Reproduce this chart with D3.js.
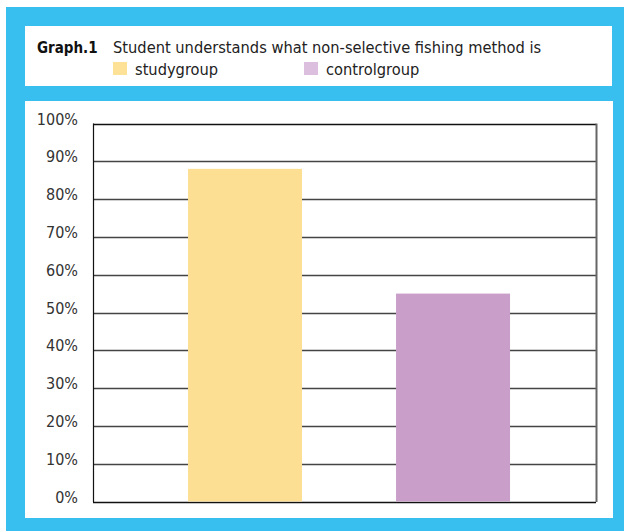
<!DOCTYPE html>
<html>
<head>
<meta charset="utf-8">
<script src="https://cdn.jsdelivr.net/npm/d3@7"></script>
<style>
  body { margin: 0; background: #fff; }
  text { font-family: "Liberation Sans Narrow", "DejaVu Sans Condensed", "Noto Sans", sans-serif; }
</style>
</head>
<body>
<svg id="chart" width="624" height="531"></svg>
<script>
// chart data
var groups = ["studygroup", "controlgroup"];
var percents = [88, 55];
var barColors = ["#fddf94", "#c99fca"];
var legendColors = ["#fde196", "#dcbfdf"];
var yTicks = [0, 10, 20, 30, 40, 50, 60, 70, 80, 90, 100];
var titleLabel = "Graph.1";
var titleText = "Student understands what non-selective fishing method is";

var svg = d3.select("#chart");

// blue frame and the two white panels
svg.append("rect").attr("x", 6).attr("y", 7).attr("width", 618).attr("height", 524).attr("fill", "#38bfef");
svg.append("rect").attr("x", 25).attr("y", 26).attr("width", 587).attr("height", 60).attr("fill", "#fff");
svg.append("rect").attr("x", 25).attr("y", 101).attr("width", 588).attr("height", 417).attr("fill", "#fff");

// title
svg.append("text").attr("x", 37).attr("y", 53)
    .style("font-family", "'DejaVu Sans Condensed', sans-serif")
    .style("font-weight", "bold").style("font-size", "15px").attr("fill", "#111")
    .text(titleLabel);
svg.append("text").attr("x", 113).attr("y", 53)
    .style("font-size", "16.3px").attr("fill", "#222")
    .text(titleText);

// legend
var legend = svg.selectAll("g.legend")
    .data(groups)
    .enter().append("g")
    .attr("class", "legend")
    .attr("transform", function (d, i) { return "translate(" + [113, 304][i] + ",62)"; });
legend.append("rect").attr("width", 14).attr("height", 13)
    .attr("fill", function (d, i) { return legendColors[i]; });
legend.append("text").attr("x", 22).attr("y", 13)
    .style("font-size", "16.3px").attr("fill", "#222")
    .text(function (d) { return d; });

// plot
var plotLeft = 93, plotRight = 596, plotTop = 123.5, plotBottom = 501.5;

var x = d3.scaleBand().domain(groups).range([plotLeft, plotRight])
    .paddingInner(0.452).paddingOuter(0.435).align(0.525);
var y = d3.scaleLinear().domain([0, 100]).range([plotBottom, plotTop]);

// gridlines
svg.append("g").selectAll("line")
    .data(yTicks)
    .enter().append("line")
    .attr("x1", plotLeft).attr("x2", plotRight)
    .attr("y1", function (d) { return Math.round(y(d)) + 0.5; })
    .attr("y2", function (d) { return Math.round(y(d)) + 0.5; })
    .attr("stroke", function (d) { return (d === 100 || d === 0) ? "#111" : "#444"; })
    .attr("stroke-width", 1.3);

// bars
svg.append("g").selectAll("rect")
    .data(percents)
    .enter().append("rect")
    .attr("x", function (d, i) { return x(groups[i]); })
    .attr("width", x.bandwidth())
    .attr("y", function (d) { return y(d); })
    .attr("height", function (d) { return y(0) - y(d); })
    .attr("fill", function (d, i) { return barColors[i]; });

// axis lines
svg.append("line").attr("x1", plotLeft + 0.5).attr("x2", plotLeft + 0.5)
    .attr("y1", plotTop).attr("y2", plotBottom + 0.5).attr("stroke", "#111").attr("stroke-width", 1.2);
svg.append("line").attr("x1", plotRight + 0.5).attr("x2", plotRight + 0.5)
    .attr("y1", plotTop).attr("y2", plotBottom + 0.5).attr("stroke", "#666").attr("stroke-width", 2);

// y axis labels
var yAxis = d3.axisLeft(y).tickValues(yTicks).tickSize(0).tickPadding(15)
    .tickFormat(function (d) { return d + "%"; });
var yg = svg.append("g").attr("transform", "translate(" + plotLeft + ",0)").call(yAxis);
yg.select(".domain").remove();
yg.selectAll("text")
    .style("font-family", "'Liberation Sans Narrow', 'DejaVu Sans Condensed', sans-serif")
    .style("font-size", "16px").attr("fill", "#333")
    .attr("dy", "0.1em")
    .attr("transform", "translate(0,-1)");
</script>
</body>
</html>
